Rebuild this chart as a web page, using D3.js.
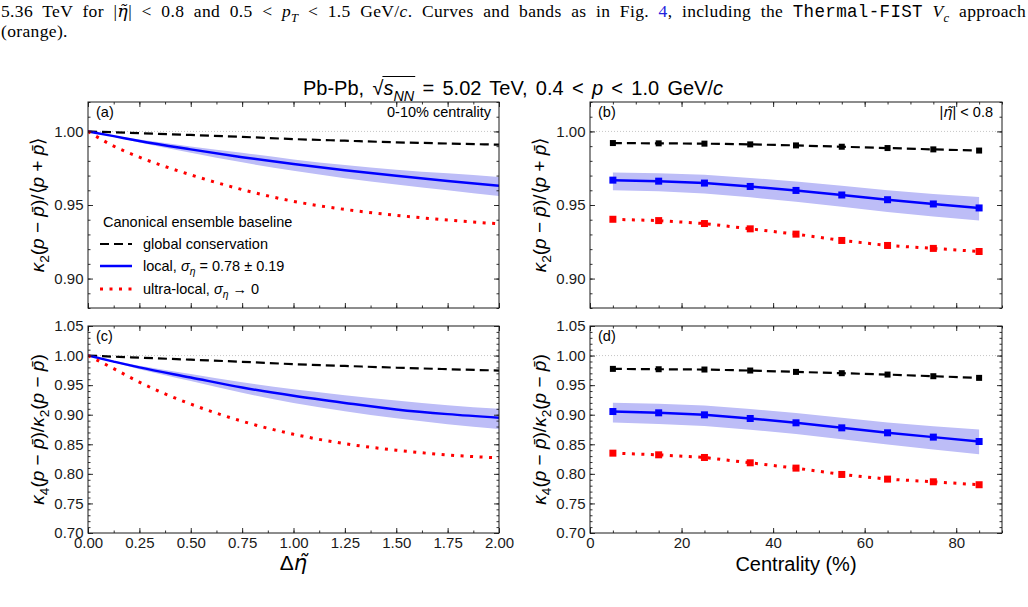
<!DOCTYPE html>
<html>
<head>
<meta charset="utf-8">
<script src="https://cdn.jsdelivr.net/npm/d3@7"></script>
<style>
  body { margin: 0; background: #fff; }
  svg { display: block; }
</style>
</head>
<body>
<div id="chart"></div>
<script>
// ---- data ----
// left column: vs Delta eta
var etaX = [0, 0.125, 0.25, 0.5, 0.75, 1.0, 1.25, 1.5, 1.75, 2.0];

var aGlobal = [1.0, 0.9994, 0.9988, 0.9976, 0.9963, 0.9948, 0.9937, 0.9926, 0.9918, 0.9910];
var aLocal = [1.0, 0.9968, 0.9935, 0.9878, 0.9825, 0.9778, 0.9736, 0.9698, 0.9663, 0.9630];
var aLocalHi = [1.0, 0.9972, 0.9945, 0.9898, 0.9855, 0.9810, 0.9772, 0.9740, 0.9715, 0.9691];
var aLocalLo = [1.0, 0.9964, 0.9925, 0.9855, 0.9790, 0.9732, 0.9682, 0.9640, 0.9600, 0.9561];
var aUltra = [1.0, 0.9900, 0.9825, 0.9705, 0.9605, 0.9525, 0.9470, 0.9430, 0.9398, 0.9372];

var cGlobal = [1.0, 0.9982, 0.9965, 0.9930, 0.9895, 0.9855, 0.9825, 0.9795, 0.9770, 0.9747];
var cLocal = [1.0, 0.9898, 0.9800, 0.9630, 0.9460, 0.9320, 0.9200, 0.9090, 0.9010, 0.8950];
var cLocalHi = [1.0, 0.9912, 0.9830, 0.9690, 0.9550, 0.9430, 0.9330, 0.9240, 0.9160, 0.9100];
var cLocalLo = [1.0, 0.9885, 0.9770, 0.9570, 0.9370, 0.9200, 0.9060, 0.8940, 0.8840, 0.8760];
var cUltra = [1.0, 0.9780, 0.9550, 0.9180, 0.8890, 0.8670, 0.8510, 0.8400, 0.8320, 0.8270];

// right column: vs centrality
var cent = [5, 15, 25, 35, 45, 55, 65, 75, 85];

var bGlobal = [0.9921, 0.9919, 0.9917, 0.9912, 0.9905, 0.9896, 0.9887, 0.9878, 0.9870];
var bLocal = [0.9669, 0.9662, 0.9649, 0.9626, 0.9599, 0.9568, 0.9536, 0.9507, 0.9480];
var bLocalHi = [0.9721, 0.9716, 0.9705, 0.9684, 0.9659, 0.9630, 0.9600, 0.9574, 0.9554];
var bLocalLo = [0.9601, 0.9593, 0.9578, 0.9552, 0.9522, 0.9488, 0.9453, 0.9421, 0.9394];
var bUltra = [0.9403, 0.9394, 0.9374, 0.9338, 0.9302, 0.9259, 0.9225, 0.9205, 0.9184];

var dGlobal = [0.9775, 0.9769, 0.9764, 0.9747, 0.9724, 0.9702, 0.9679, 0.9651, 0.9623];
var dLocal = [0.9054, 0.9032, 0.8998, 0.8936, 0.8863, 0.8778, 0.8694, 0.8621, 0.8547];
var dLocalHi = [0.9201, 0.9185, 0.9155, 0.9098, 0.9030, 0.8950, 0.8870, 0.8805, 0.8750];
var dLocalLo = [0.8868, 0.8845, 0.8810, 0.8747, 0.8672, 0.8585, 0.8497, 0.8413, 0.8333];
var dUltra = [0.8350, 0.8322, 0.8277, 0.8187, 0.8097, 0.7990, 0.7911, 0.7866, 0.7816];

// tick labels
var etaTicks = [0, 0.25, 0.5, 0.75, 1.0, 1.25, 1.5, 1.75, 2.0];
var centTicks = [0, 20, 40, 60, 80];
var k2Ticks = [0.90, 0.95, 1.00];
var k4Ticks = [0.70, 0.75, 0.80, 0.85, 0.90, 0.95, 1.00, 1.05];

// ---- setup ----
var width = 1028, height = 607;
var sans = "'Liberation Sans', Arial, Helvetica, sans-serif";
var serif = "'Liberation Serif', 'Times New Roman', serif";
var mono = "'Liberation Mono', 'DejaVu Sans Mono', monospace";
var dejaSans = "'DejaVu Sans', sans-serif";
var dejaSerif = "'DejaVu Serif', serif";

var svg = d3.select("#chart").append("svg")
    .attr("width", width)
    .attr("height", height);

// writes text made of plain / italic / subscript pieces
function rich(text, parts, fs) {
  var shift = 0;
  parts.forEach(function(p) {
    var ts = text.append("tspan").text(p.t);
    var target = p.sub ? fs * 0.28 : 0;
    if (target !== shift) { ts.attr("dy", target - shift); shift = target; }
    if (p.sub) ts.attr("font-size", fs * 0.72);
    if (p.i) ts.attr("font-style", "italic");
    if (p.fill) ts.attr("fill", p.fill);
    if (p.ff) ts.attr("font-family", p.ff);
  });
  return text;
}

// stretch a text to a given width by widening its spaces
function spreadTo(text, target) {
  var node = text.node();
  var len = node.getComputedTextLength();
  var spaces = (node.textContent.match(/ /g) || []).length;
  if (spaces > 0 && target > len) text.attr("word-spacing", (target - len) / spaces);
}

var pbar = "p\u0304";
var etaTilde = "\u03B7\u0303";

// caption from the paper above the figure
var cap1 = svg.append("text")
    .attr("x", 1).attr("y", 17)
    .attr("font-family", serif).attr("font-size", 17.5)
    .attr("letter-spacing", 0.35);
rich(cap1, [
  {t: "5.36 TeV for |"}, {t: etaTilde, i: true, ff: dejaSerif}, {t: "| < 0.8 and 0.5 < "},
  {t: "p", i: true}, {t: "T", i: true, sub: true}, {t: " < 1.5 GeV/"}, {t: "c", i: true},
  {t: ". Curves and bands as in Fig. "}, {t: "4", fill: "#2222dd"}, {t: ", including the "},
  {t: "Thermal-FIST", ff: mono}, {t: " "}, {t: "V", i: true}, {t: "c", i: true, sub: true},
  {t: " approach"}
], 17.5);
spreadTo(cap1, 1025);
svg.append("text")
    .attr("x", 1).attr("y", 37)
    .attr("font-family", serif).attr("font-size", 17.5)
    .attr("letter-spacing", 0.35)
    .text("(orange).");

// figure title
var title = svg.append("text")
    .attr("x", 513).attr("y", 95)
    .attr("text-anchor", "middle")
    .attr("font-family", sans).attr("font-size", 20);
rich(title, [
  {t: "Pb-Pb, \u221A"}, {t: "s", i: true}, {t: "NN", i: true, sub: true},
  {t: " = 5.02 TeV, 0.4 < "}, {t: "p", i: true}, {t: " < 1.0 GeV/"}, {t: "c", i: true}
], 20);
spreadTo(title, 420);
// overline of the square root
var tn = title.node();
var sx0 = tn.getStartPositionOfChar(8).x;
var sx1 = tn.getEndPositionOfChar(10).x;
svg.append("line")
    .attr("x1", sx0 - 1).attr("x2", sx1 + 1)
    .attr("y1", 76.5).attr("y2", 76.5)
    .attr("stroke", "#000").attr("stroke-width", 1.2);

// ---- panels ----
function drawPanel(cfg) {
  var x = d3.scaleLinear().domain(cfg.xDomain).range([cfg.left, cfg.right]);
  var y = d3.scaleLinear().domain(cfg.yDomain).range([cfg.bottom, cfg.top]);
  var g = svg.append("g");

  var clipId = "clip-" + cfg.name;
  svg.append("clipPath").attr("id", clipId)
    .append("rect")
    .attr("x", cfg.left).attr("y", cfg.top)
    .attr("width", cfg.right - cfg.left).attr("height", cfg.bottom - cfg.top);

  var plot = g.append("g").attr("clip-path", "url(#" + clipId + ")");

  // reference line at unity
  plot.append("line")
      .attr("x1", cfg.left).attr("x2", cfg.right)
      .attr("y1", y(1)).attr("y2", y(1))
      .attr("stroke", "#b8b8b8").attr("stroke-width", 0.8)
      .attr("stroke-dasharray", "1,2");

  var xs = cfg.xs;
  var curve = cfg.markers ? d3.curveLinear : d3.curveMonotoneX;

  // uncertainty band of the local curve
  var band = d3.area()
      .x(function(d, i) { return x(xs[i]); })
      .y0(function(d, i) { return y(cfg.lo[i]); })
      .y1(function(d, i) { return y(cfg.hi[i]); })
      .curve(curve);
  plot.append("path")
      .attr("d", band(cfg.lo))
      .attr("fill", "#bdbdf7");

  var line = d3.line()
      .x(function(d, i) { return x(xs[i]); })
      .y(function(d) { return y(d); })
      .curve(curve);

  var series = [
    {vals: cfg.global, color: "#000", width: 2.2, dash: "9,5", size: 6},
    {vals: cfg.local, color: "#0000ff", width: 2.5, dash: null, size: 7},
    {vals: cfg.ultra, color: "#ff0000", width: 3, dash: "3,6.5", size: 7}
  ];

  series.forEach(function(s) {
    plot.append("path")
        .attr("d", line(s.vals))
        .attr("fill", "none")
        .attr("stroke", s.color)
        .attr("stroke-width", s.width)
        .attr("stroke-dasharray", s.dash);
  });

  if (cfg.markers) {
    series.forEach(function(s) {
      plot.selectAll(null)
          .data(s.vals)
          .enter()
          .append("rect")
          .attr("x", function(d, i) { return x(xs[i]) - s.size / 2; })
          .attr("y", function(d) { return y(d) - s.size / 2; })
          .attr("width", s.size).attr("height", s.size)
          .attr("fill", s.color);
    });
  }

  // frame ticks (inward on all four sides)
  function styleAxis(a) {
    a.attr("font-size", 15).attr("font-family", sans).attr("color", "#1a1a1a");
    a.select(".domain").remove();
    a.selectAll(".tick line").attr("stroke-width", 0.9);
  }

  var yMinor = d3.range(cfg.yDomain[0], cfg.yDomain[1] + 1e-9, 0.01);
  var xMinor = d3.range(cfg.xDomain[0], cfg.xDomain[1] + 1e-9, cfg.xMinorStep);

  g.append("g")
      .attr("transform", "translate(" + cfg.left + ",0)")
      .call(d3.axisLeft(y).tickValues(cfg.yTicks).tickSize(-5).tickPadding(4.5)
            .tickFormat(d3.format(".2f")))
      .call(styleAxis);
  g.append("g")
      .attr("transform", "translate(" + cfg.left + ",0)")
      .call(d3.axisLeft(y).tickValues(yMinor).tickSize(-2.5).tickFormat(""))
      .call(styleAxis);
  g.append("g")
      .attr("transform", "translate(" + cfg.right + ",0)")
      .call(d3.axisRight(y).tickValues(cfg.yTicks).tickSize(-5).tickFormat(""))
      .call(styleAxis);
  g.append("g")
      .attr("transform", "translate(" + cfg.right + ",0)")
      .call(d3.axisRight(y).tickValues(yMinor).tickSize(-2.5).tickFormat(""))
      .call(styleAxis);

  g.append("g")
      .attr("transform", "translate(0," + cfg.bottom + ")")
      .call(d3.axisBottom(x).tickValues(cfg.xTicks).tickSize(-5).tickPadding(4.5)
            .tickFormat(cfg.showX ? d3.format(cfg.xFormat) : ""))
      .call(styleAxis);
  g.append("g")
      .attr("transform", "translate(0," + cfg.bottom + ")")
      .call(d3.axisBottom(x).tickValues(xMinor).tickSize(-2.5).tickFormat(""))
      .call(styleAxis);
  g.append("g")
      .attr("transform", "translate(0," + cfg.top + ")")
      .call(d3.axisTop(x).tickValues(cfg.xTicks).tickSize(-5).tickFormat(""))
      .call(styleAxis);
  g.append("g")
      .attr("transform", "translate(0," + cfg.top + ")")
      .call(d3.axisTop(x).tickValues(xMinor).tickSize(-2.5).tickFormat(""))
      .call(styleAxis);

  g.append("rect")
      .attr("x", cfg.left).attr("y", cfg.top)
      .attr("width", cfg.right - cfg.left).attr("height", cfg.bottom - cfg.top)
      .attr("fill", "none").attr("stroke", "#1a1a1a").attr("stroke-width", 1);

  // panel tag
  g.append("text")
      .attr("x", cfg.left + 8).attr("y", cfg.top + 15)
      .attr("font-family", sans).attr("font-size", 14.5)
      .text("(" + cfg.name + ")");

  // y label
  var yl = g.append("text")
      .attr("transform", "translate(" + (cfg.left - 44) + "," + ((cfg.top + cfg.bottom) / 2) + ") rotate(-90)")
      .attr("text-anchor", "middle")
      .attr("font-family", sans).attr("font-size", 19);
  rich(yl, cfg.yLabel, 19);

  return {g: g, x: x, y: y};
}

var k2Label = [
  {t: "\u03BA", i: true}, {t: "2", sub: true}, {t: "("}, {t: "p", i: true}, {t: " \u2212 "},
  {t: pbar, i: true}, {t: ")/\u27E8"}, {t: "p", i: true}, {t: " + "}, {t: pbar, i: true}, {t: "\u27E9"}
];
var k4Label = [
  {t: "\u03BA", i: true}, {t: "4", sub: true}, {t: "("}, {t: "p", i: true}, {t: " \u2212 "},
  {t: pbar, i: true}, {t: ")/"}, {t: "\u03BA", i: true}, {t: "2", sub: true}, {t: "("},
  {t: "p", i: true}, {t: " \u2212 "}, {t: pbar, i: true}, {t: ")"}
];

drawPanel({
  name: "a", left: 88, right: 499, top: 102, bottom: 308,
  xDomain: [0, 2], yDomain: [0.88, 1.02], xs: etaX,
  xTicks: etaTicks, xMinorStep: 0.125, yTicks: k2Ticks, showX: false, xFormat: ".2f",
  global: aGlobal, local: aLocal, hi: aLocalHi, lo: aLocalLo, ultra: aUltra,
  markers: false, yLabel: k2Label
});
drawPanel({
  name: "b", left: 590, right: 1002, top: 102, bottom: 308,
  xDomain: [0, 90], yDomain: [0.88, 1.02], xs: cent,
  xTicks: centTicks, xMinorStep: 5, yTicks: k2Ticks, showX: false, xFormat: "d",
  global: bGlobal, local: bLocal, hi: bLocalHi, lo: bLocalLo, ultra: bUltra,
  markers: true, yLabel: k2Label
});
drawPanel({
  name: "c", left: 88, right: 499, top: 326, bottom: 533,
  xDomain: [0, 2], yDomain: [0.70, 1.05], xs: etaX,
  xTicks: etaTicks, xMinorStep: 0.125, yTicks: k4Ticks, showX: true, xFormat: ".2f",
  global: cGlobal, local: cLocal, hi: cLocalHi, lo: cLocalLo, ultra: cUltra,
  markers: false, yLabel: k4Label
});
drawPanel({
  name: "d", left: 590, right: 1002, top: 326, bottom: 533,
  xDomain: [0, 90], yDomain: [0.70, 1.05], xs: cent,
  xTicks: centTicks, xMinorStep: 5, yTicks: k4Ticks, showX: true, xFormat: "d",
  global: dGlobal, local: dLocal, hi: dLocalHi, lo: dLocalLo, ultra: dUltra,
  markers: true, yLabel: k4Label
});

// corner notes
svg.append("text")
    .attr("x", 491).attr("y", 117)
    .attr("text-anchor", "end")
    .attr("font-family", sans).attr("font-size", 14.5)
    .text("0-10% centrality");
var etaNote = svg.append("text")
    .attr("x", 993).attr("y", 117)
    .attr("text-anchor", "end")
    .attr("font-family", sans).attr("font-size", 14.5);
rich(etaNote, [{t: "|"}, {t: etaTilde, i: true, ff: dejaSans}, {t: "| < 0.8"}], 14.5);

// x labels
var xl = svg.append("text")
    .attr("x", 293.5).attr("y", 570)
    .attr("text-anchor", "middle")
    .attr("font-family", sans).attr("font-size", 21);
rich(xl, [{t: "\u0394"}, {t: etaTilde, i: true, ff: dejaSans}], 21);
svg.append("text")
    .attr("x", 796).attr("y", 571)
    .attr("text-anchor", "middle")
    .attr("font-family", sans).attr("font-size", 20)
    .text("Centrality (%)");

// legend in panel (a)
var legendItems = [
  {color: "#000", width: 2.2, dash: "9,5", y: 244,
   label: [{t: "global conservation"}]},
  {color: "#0000ff", width: 2.5, dash: null, y: 266,
   label: [{t: "local, "}, {t: "\u03C3", i: true}, {t: "\u03B7", i: true, sub: true}, {t: " = 0.78 \u00B1 0.19"}]},
  {color: "#ff0000", width: 3, dash: "3,6.5", y: 289,
   label: [{t: "ultra-local, "}, {t: "\u03C3", i: true}, {t: "\u03B7", i: true, sub: true}, {t: " \u2192 0"}]}
];
svg.append("text")
    .attr("x", 103).attr("y", 227)
    .attr("font-family", sans).attr("font-size", 14.5)
    .text("Canonical ensemble baseline");
legendItems.forEach(function(it) {
  svg.append("line")
      .attr("x1", 100).attr("x2", 132)
      .attr("y1", it.y).attr("y2", it.y)
      .attr("stroke", it.color).attr("stroke-width", it.width)
      .attr("stroke-dasharray", it.dash);
  var t = svg.append("text")
      .attr("x", 143).attr("y", it.y + 5)
      .attr("font-family", sans).attr("font-size", 14.5);
  rich(t, it.label, 14.5);
});
</script>
</body>
</html>
